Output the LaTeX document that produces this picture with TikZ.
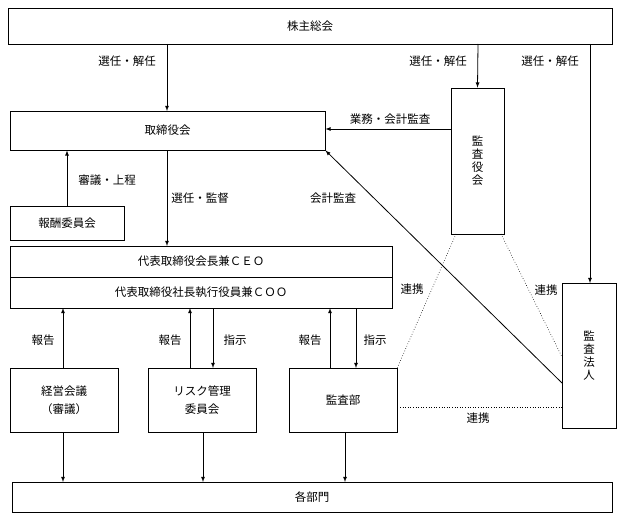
\documentclass[tikz,border=0pt]{standalone}
\usepackage{fontspec}
\setmainfont{Noto Sans CJK JP}
\begin{document}
\begin{tikzpicture}[x=1pt,y=-1pt,font=\fontsize{11.5}{12}\selectfont,
 box/.style={draw,thick,inner sep=0pt},
 arr/.style={thick,-latex},
 dot/.style={semithick,dotted},
 lab/.style={inner sep=1pt},
 vt/.style={align=center,font=\fontsize{11.5}{13}\selectfont}]
\useasboundingbox (0,0) rectangle (621,519);
\node[box,minimum width=604,minimum height=36] (sh) at (310,26) {株主総会};
\node[box,minimum width=315,minimum height=39] (bd) at (167.5,130.5) {取締役会};
\node[box,minimum width=53,minimum height=146,vt] (kk) at (477.5,161) {監\\査\\役\\会};
\node[box,minimum width=114,minimum height=34] (hs) at (67,223) {報酬委員会};
\node[box,minimum width=382,minimum height=31] (ceo) at (201,261.5) {代表取締役会長兼ＣＥＯ};
\node[box,minimum width=382,minimum height=31] (coo) at (201,292.5) {代表取締役社長執行役員兼ＣＯＯ};
\node[box,minimum width=54,minimum height=145,vt] (hj) at (589,356) {監\\査\\法\\人};
\node[box,minimum width=108,minimum height=64,align=center] (kg) at (64,400) {経営会議\\[6pt]（審議）};
\node[box,minimum width=108,minimum height=64,align=center] (rk) at (202,400) {リスク管理\\[6pt]委員会};
\node[box,minimum width=108,minimum height=64] (ks) at (343,400) {監査部};
\node[box,minimum width=600,minimum height=30] (bm) at (312,497) {各部門};
% top arrows
\draw[arr] (167,44) -- (167,111);
\node[lab] (l1) at (127,61) {選任・解任};
\draw[arr] (478,44) -- (kk.north);
\node[lab] (l2) at (438,61) {選任・解任};
\draw[arr] (590,44) -- (hj.north-|590,0);
\node[lab] (l3) at (550,61) {選任・解任};
\draw[arr] (kk.west|-0,129) -- (bd.east|-0,129);
\node[lab] (l4) at (390,119) {業務・会計監査};
\coordinate (c1) at (562,383);
\draw[arr] (c1) -- (bd.south east);
\node[lab] (l5) at (333,198) {会計監査};
\draw[arr] (hs.north) -- (hs.north|-bd.south);
\node[lab] (l6) at (107,180) {審議・上程};
\draw[arr] (167,150) -- (167,246);
\node[lab] (l7) at (200,198) {選任・監督};
% bottom
\draw[arr] (kg.north-|63,0) -- (63,308);
\node[lab] at (43,340) {報告};
\draw[arr] (190,368) -- (190,308);
\draw[arr] (213,308) -- (213,368);
\node[lab] at (170,340) {報告};
\node[lab] at (235,340) {指示};
\draw[arr] (330,368) -- (330,308);
\draw[arr] (356,308) -- (356,368);
\node[lab] at (310,340) {報告};
\node[lab] at (375,340) {指示};
\draw[arr] (63,432) -- (63,482);
\draw[arr] (203,432) -- (203,482);
\draw[arr] (345,432) -- (345,482);
% dotted
\draw[dot] (456,234) -- (ks.north east);
\draw[dot] (501,234) -- (562,357);
\draw[dot] (ks.east|-0,407) -- (hj.west|-0,407);
\node[lab] at (412,289) {連携};
\node[lab] at (546,290) {連携};
\node[lab] at (478,418) {連携};
\end{tikzpicture}
\end{document}
